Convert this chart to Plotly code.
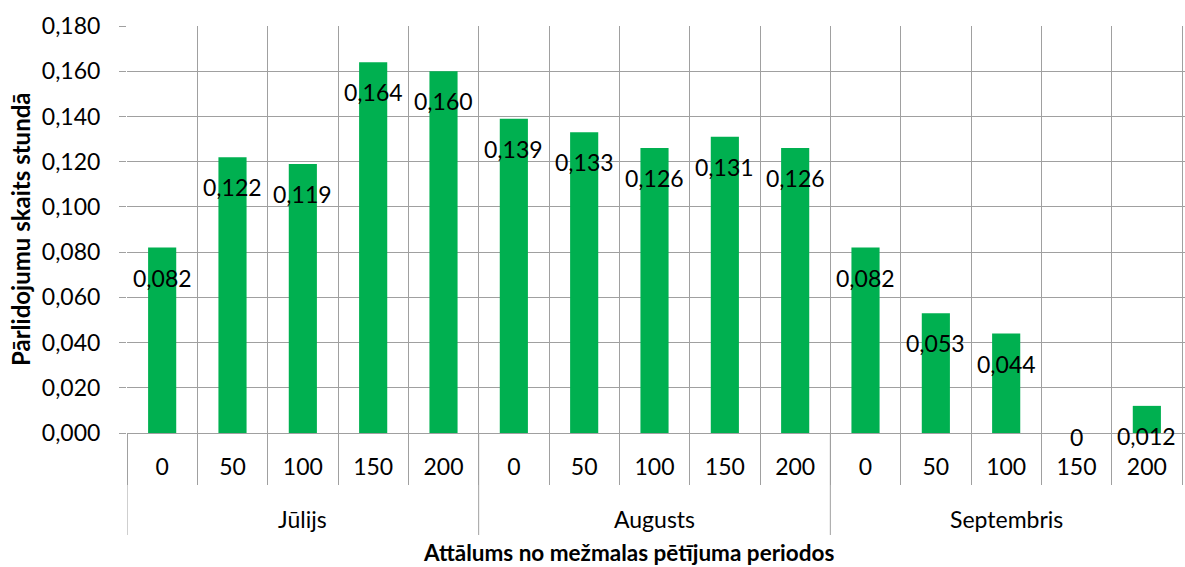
import plotly.graph_objects as go

months = ["Jūlijs", "Augusts", "Septembris"]
distances = ["0", "50", "100", "150", "200"]
values = [0.082, 0.122, 0.119, 0.164, 0.160,
          0.139, 0.133, 0.126, 0.131, 0.126,
          0.082, 0.053, 0.044, 0.0, 0.012]
y_title = "Pārlidojumu skaits stundā"
x_title = "Attālums no mežmalas pētījuma periodos"

W, H = 1185, 567
L, R, T, B = 127, 0, 26, 134
PW, PH = W - L - R, H - T - B

def px_x(px):
    return (px - L) / PW

def px_y(py):
    return (H - B - py) / PH

n = len(months) * len(distances)
xs = list(range(n))
ticktext = distances * len(months)
xrange = [-0.5, n - 0.5 + 3 / 70.7]

GRID = "#A0A0A0"
FONT = "Lato"

fig = go.Figure()
fig.add_trace(go.Bar(x=xs, y=values, marker=dict(color="#00B050", line=dict(width=0)),
                     width=0.4, showlegend=False, hoverinfo="skip"))
fig.add_trace(go.Scatter(x=[xs[0]], y=[0], xaxis="x2", mode="markers",
                         marker=dict(opacity=0), showlegend=False, hoverinfo="skip"))

for i, v in enumerate(values):
    lbl = f"{v:.3f}".replace(".", ",") if v != 0 else "0"
    fig.add_annotation(x=i, y=v, xref="x", yref="y", text=lbl, showarrow=False,
                       yshift=-30 if v != 0 else -4, font=dict(family=FONT, size=23, color="black"))

for g, m in enumerate(months):
    x0 = g * len(distances) - 0.5
    fig.add_shape(type="line", xref="x", yref="paper", x0=x0, x1=x0, y0=0, y1=px_y(535),
                  line=dict(color=GRID, width=1))
    fig.add_annotation(x=g * len(distances) + (len(distances) - 1) / 2, y=px_y(519),
                       xref="x", yref="paper", text=m, showarrow=False, yanchor="middle",
                       font=dict(family=FONT, size=23, color="black"))

fig.add_annotation(x=px_x(628), y=px_y(552), xref="paper", yref="paper", text=f"<b>{x_title}</b>",
                   showarrow=False, yanchor="middle", font=dict(family=FONT, size=22.5, color="black"))
fig.add_annotation(x=px_x(21), y=px_y(229), xref="paper", yref="paper", text=f"<b>{y_title}</b>",
                   showarrow=False, textangle=-90, xanchor="center", yanchor="middle",
                   font=dict(family=FONT, size=24, color="black"))

fig.update_layout(
    width=W, height=H, margin=dict(l=L, r=R, t=T, b=B, autoexpand=False),
    paper_bgcolor="white", plot_bgcolor="white", separators=", ",
    font=dict(family=FONT, size=23, color="black"),
    xaxis=dict(range=xrange, tickmode="array", tickvals=xs, ticktext=ticktext,
               showgrid=False, zeroline=False, ticks="", showline=False,
               ticklabelstandoff=18, tickfont=dict(family=FONT, size=23)),
    xaxis2=dict(overlaying="x", range=xrange, tickmode="linear", tick0=-0.5, dtick=1,
                showgrid=True, gridcolor=GRID, gridwidth=1, ticks="outside", ticklen=51,
                tickcolor=GRID, tickwidth=1, showticklabels=False, zeroline=False,
                showline=False, side="bottom", anchor="y"),
    yaxis=dict(range=[0, 0.18], tickmode="linear", tick0=0, dtick=0.02, tickformat=".3f",
               showgrid=True, gridcolor=GRID, gridwidth=1, ticks="outside", ticklen=7,
               tickcolor=GRID, zeroline=True, zerolinecolor=GRID, zerolinewidth=1,
               showline=False, ticklabelstandoff=14, tickfont=dict(family=FONT, size=23)),
)

fig.write_html("out.html", config={"displayModeBar": False},
               post_script="document.body.style.margin='0';document.body.style.overflow='hidden';")
